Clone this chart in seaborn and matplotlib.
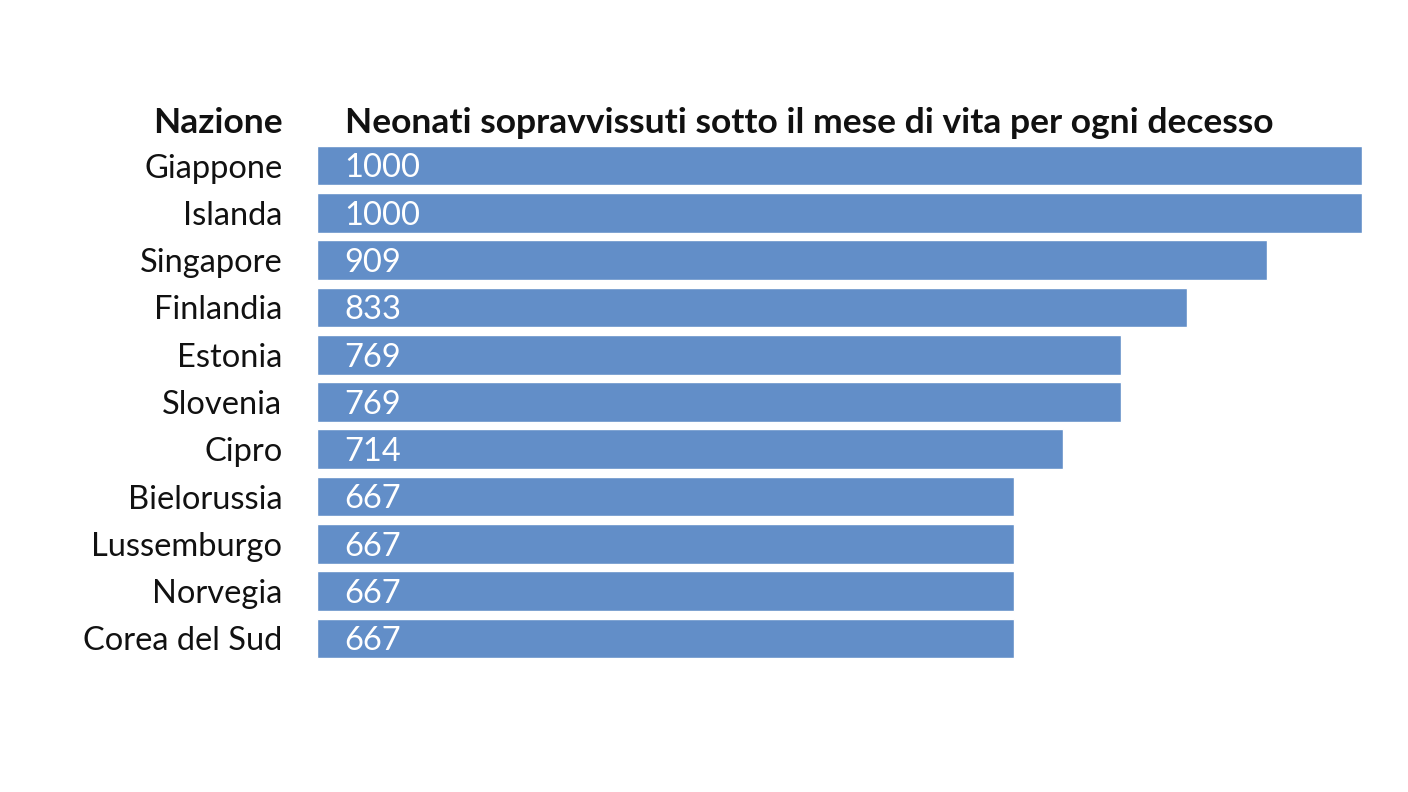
import pandas as pd
import matplotlib
matplotlib.use("Agg")
import matplotlib.pyplot as plt
import seaborn as sns

# --- data ---
nazioni = ["Giappone", "Islanda", "Singapore", "Finlandia", "Estonia", "Slovenia",
           "Cipro", "Bielorussia", "Lussemburgo", "Norvegia", "Corea del Sud"]
neonati = [1000, 1000, 909, 833, 769, 769, 714, 667, 667, 667, 667]

col_header = "Nazione"
val_header = "Neonati sopravvissuti sotto il mese di vita per ogni decesso"

df = pd.DataFrame({"nazione": nazioni, "valore": neonati})

sns.set_theme(style="white")
plt.rcParams["font.family"] = ["Lato", "DejaVu Sans"]

fig = plt.figure(figsize=(14.08, 7.92), dpi=100)
ax = fig.add_axes([317 / 1408, 1 - 662 / 792, 1045 / 1408, 520 / 792])

sns.barplot(data=df, x="valore", y="nazione", color="#628ec8", width=0.84,
            saturation=1, ax=ax, orient="h")

ax.set_xlim(0, 1000)
ax.set_ylim(10.5, -0.5)
ax.set_xlabel("")
ax.set_ylabel("")
ax.set_xticks([])
ax.tick_params(axis="y", length=0, pad=25, labelsize=23.5, labelcolor="#111111")
for s in ax.spines.values():
    s.set_visible(False)

# value labels inside bars
for i, v in enumerate(neonati):
    ax.text(26, i + 0.06, str(v), color="white", fontsize=23.5, va="center", ha="left")

# column headers
fig.text(283 / 1408, 1 - 123 / 792, col_header, ha="right", va="center",
         fontsize=25.5, fontweight="bold", color="#111111")
fig.text(345 / 1408, 1 - 123 / 792, val_header, ha="left", va="center",
         fontsize=25.5, fontweight="bold", color="#111111")

fig.savefig("out.png", dpi=100, facecolor="white")
